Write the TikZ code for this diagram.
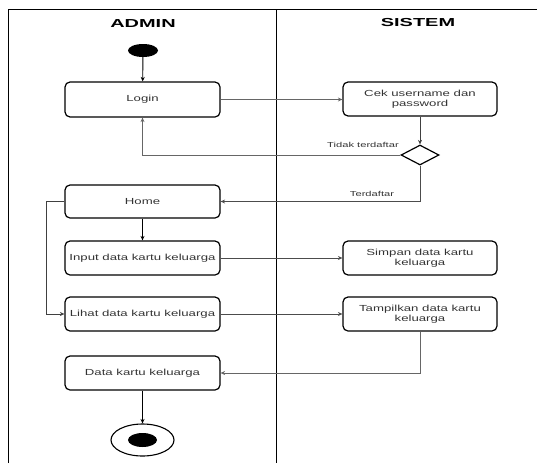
\documentclass[tikz,border=0pt]{standalone}
\usepackage{fontspec}
\setmainfont{Liberation Sans}[FakeStretch=1.5]
\newfontfamily\hdrfont{Liberation Sans}[FakeStretch=1.72]
\newfontfamily\lblfont{Liberation Sans}[FakeStretch=1.55]
\usetikzlibrary{shapes.geometric,arrows.meta}
\begin{document}
\begin{tikzpicture}[x=1pt,y=-1pt,
  act/.style={draw=black,line width=1.2pt,rounded corners=5pt,minimum width=155pt,minimum height=34pt,
    inner sep=1pt,align=center,font=\fontsize{8.8}{10}\selectfont,text=black!80},
  hdr/.style={font=\hdrfont\bfseries\fontsize{11.6}{13}\selectfont},
  lbl/.style={font=\lblfont\fontsize{7.2}{8}\selectfont,text=black!80,inner sep=0pt},
  arr/.style={-{Stealth[length=4.5pt,width=4pt]},line width=0.9pt,draw=black},
  garr/.style={-{Stealth[length=4.5pt,width=4pt]},line width=0.8pt,draw=black!60},
  lane/.style={line width=0.9pt,draw=black}]
\useasboundingbox (0,0) rectangle (537,463);
% frame
\coordinate (tl) at (8,9);
\coordinate (tr) at (537,9);
\coordinate (bl) at (8,463);
\coordinate (dt) at (276,9);
\coordinate (db) at (276,463);
\draw[lane] (bl) -- (tl) -- (tr);
\draw[lane] (dt) -- (db);
\node[hdr] (hadmin) at (143,24) {ADMIN};
\node[hdr] (hsistem) at (418,23) {SISTEM};
% nodes
\node[ellipse,fill=black,minimum width=30pt,minimum height=13pt,inner sep=0pt] (start) at (143,50.5) {};
\node[act,minimum height=35pt] (login) at (142.5,99.5) {Login};
\node[act,minimum width=154pt] (cek) at (420,99) {Cek username dan\\password};
\node[diamond,draw=black,line width=1.2pt,minimum width=38pt,minimum height=20pt,inner sep=0pt] (dec) at (420,155) {};
\node[act,minimum height=33pt] (home) at (142.5,201.5) {Home};
\node[act] (input) at (142.5,258) {Input data kartu keluarga};
\node[act] (lihat) at (142.5,314) {Lihat data kartu keluarga};
\node[act] (data) at (142.5,373) {Data kartu keluarga};
\node[act,minimum width=154pt] (simpan) at (420,258) {Simpan data kartu\\keluarga};
\node[act,minimum width=154pt] (tampil) at (420,314) {Tampilkan data kartu\\keluarga};
\node[ellipse,draw=black,line width=1.1pt,minimum width=63pt,minimum height=32pt,inner sep=0pt] (end) at (142.5,440) {};
\node[ellipse,fill=black,minimum width=29pt,minimum height=14pt,inner sep=0pt] (endin) at (end.center) {};
% labels
\node[lbl] (ltidak) at (363,145) {Tidak terdaftar};
\node[lbl] (lterd) at (372,194) {Terdaftar};
% connectors
\draw[arr] (start) -- (login);
\draw[garr] (login.east) -- (login.east -| cek.west);
\draw[arr,draw=black!75] (cek.south) -- (dec.north);
\draw[garr] (dec.west) -| (login.south);
\draw[garr,draw=black!70] (dec.south) |- (home.east);
\draw[arr] (home) -- (input);
\coordinate (loopx) at (46,201.5);
\draw[arr,draw=black!75,line width=0.8pt] (home.west) -- (loopx) |- (lihat.west);
\draw[garr,draw=black!70] (input.east) -- (simpan.west);
\draw[garr,draw=black!70] (lihat.east) -- (tampil.west);
\draw[garr] (tampil.south) |- (data.east);
\draw[arr] (data) -- (end);
\end{tikzpicture}
\end{document}
